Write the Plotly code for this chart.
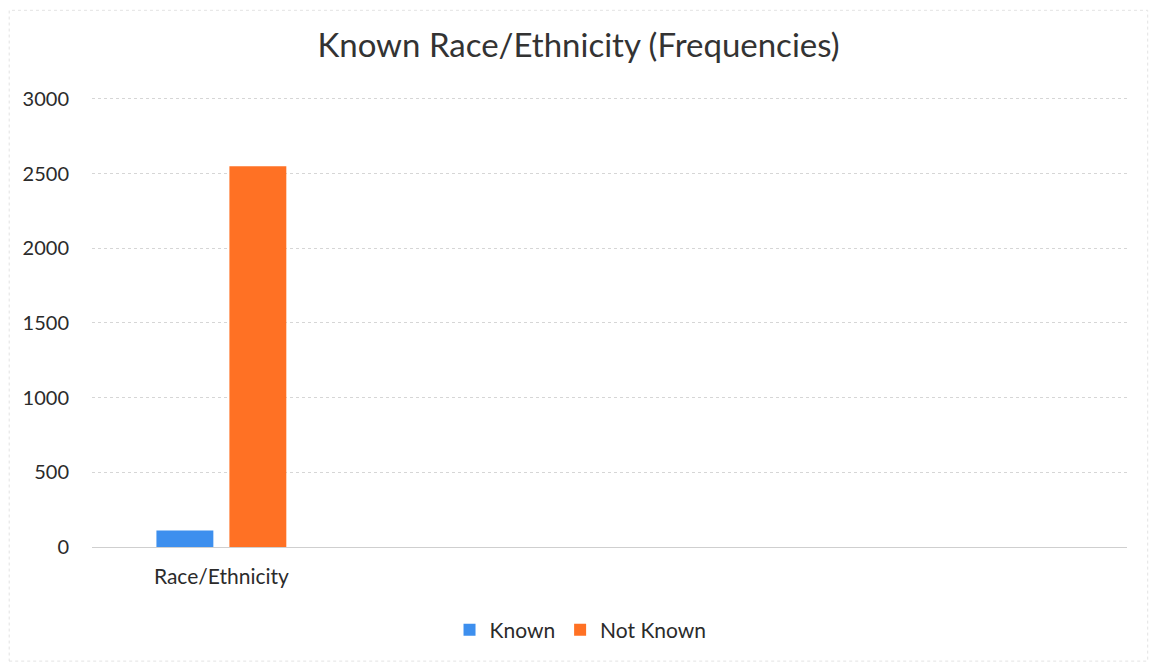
import plotly.graph_objects as go

categories = ["Race/Ethnicity"]
slots = ["Race/Ethnicity", " ", "  ", "   "]
series_names = ["Known", "Not Known"]
known = [110]
not_known = [2550]
colors = ["#3D8FEE", "#FF7124"]
y_ticks = [0, 500, 1000, 1500, 2000, 2500, 3000]

FONT = "Lato, 'Open Sans', sans-serif"
TXT = "#2B2B2B"

fig = go.Figure()
for name, vals, col in zip(series_names, [known, not_known], colors):
    fig.add_trace(go.Bar(x=categories, y=vals, name=name, marker=dict(color=col, line=dict(width=0))))

fig.update_layout(
    width=1141, height=654,
    paper_bgcolor="white", plot_bgcolor="white",
    margin=dict(l=84, r=22, t=88, b=115),
    barmode="group", bargap=0.436, bargroupgap=0.22,
    title=dict(text="Known Race/Ethnicity (Frequencies)", x=0.5, xanchor="center",
               y=0.943, yanchor="middle", font=dict(family=FONT, size=33, color="#333333")),
    font=dict(family=FONT, color=TXT),
    showlegend=True,
    legend=dict(orientation="h", x=0.472, xanchor="center", y=-0.184, yanchor="middle",
                font=dict(family=FONT, size=21, color=TXT), itemwidth=30,
                traceorder="normal"),
    xaxis=dict(type="category", categoryorder="array", categoryarray=slots,
               range=[-0.5, 3.5], showgrid=False, showline=False, zeroline=False,
               tickvals=categories, ticktext=categories, ticks="", ticklabelstandoff=15,
               tickfont=dict(family=FONT, size=21, color=TXT)),
    yaxis=dict(range=[0, 3020], tickvals=y_ticks, showgrid=True, gridcolor="#D6D6D6",
               gridwidth=1, griddash="dot", zeroline=True, zerolinecolor="#CFCFCF", zerolinewidth=1,
               showline=False, ticks="", ticklabelstandoff=22,
               tickfont=dict(family=FONT, size=20, color=TXT)),
    shapes=[dict(type="rect", xref="paper", yref="paper", x0=-0.080, x1=1.020, y0=-0.253, y1=1.190,
                 line=dict(color="#E3E3E3", width=1, dash="dot"), layer="below")],
)

fig.write_html("out.html")
